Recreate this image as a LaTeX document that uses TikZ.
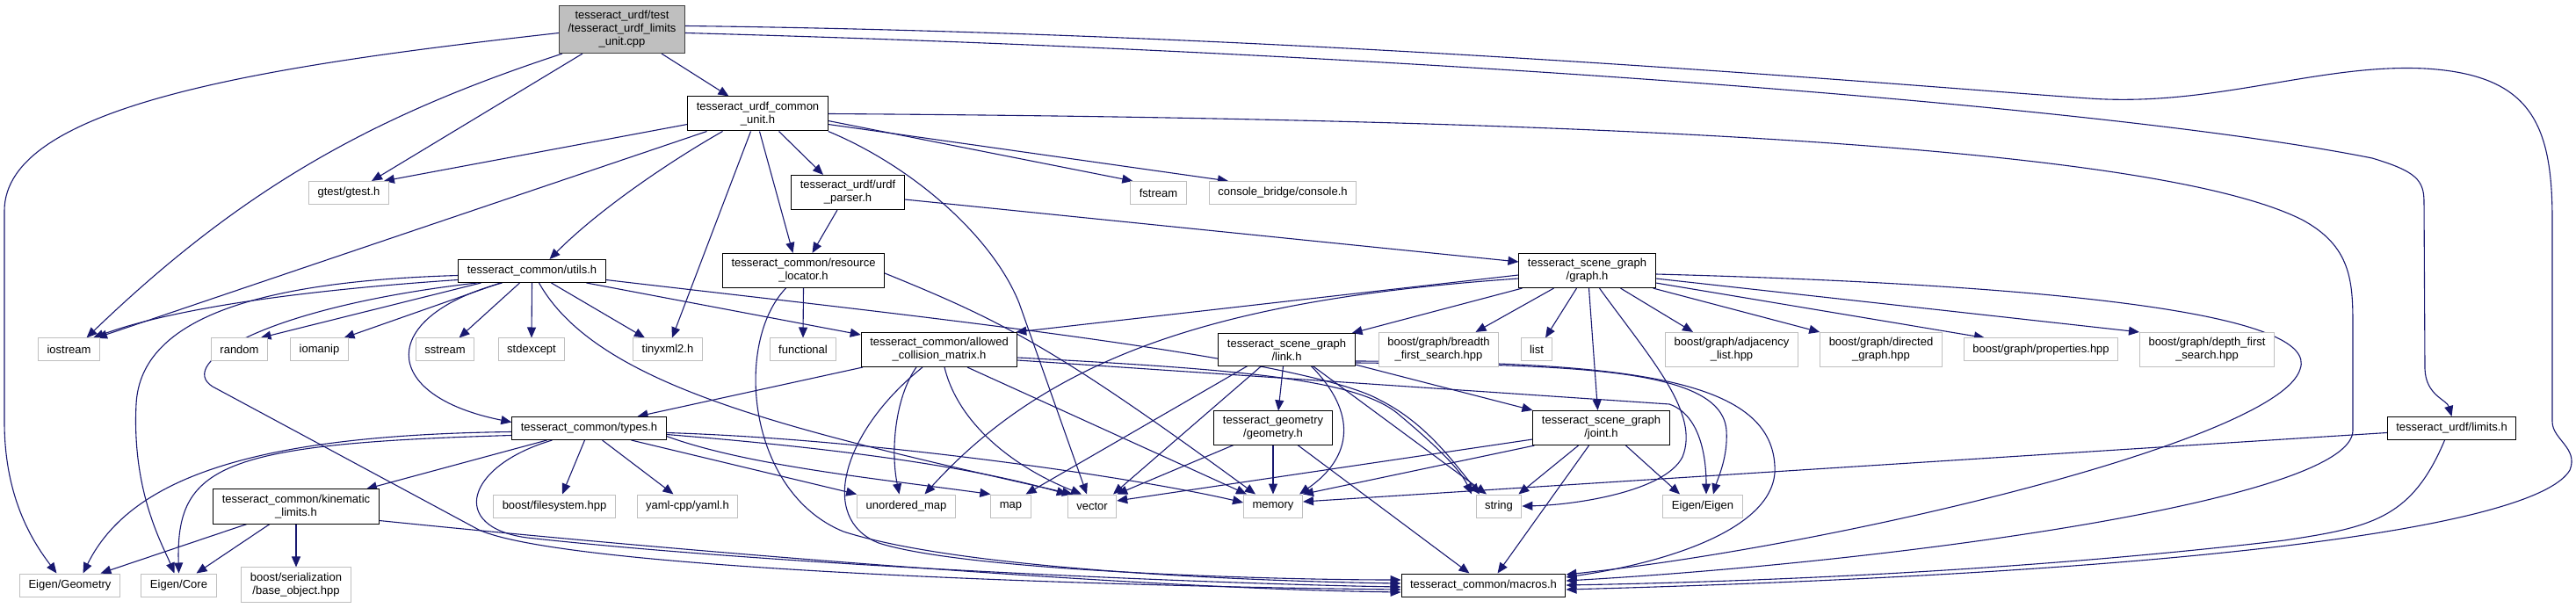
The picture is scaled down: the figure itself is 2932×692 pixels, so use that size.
\documentclass[tikz,border=0pt]{standalone}
\usepackage{fontspec}
\setmainfont{Liberation Sans}
\usepackage{tikz}
\usetikzlibrary{arrows.meta,backgrounds}
\definecolor{deps-blue}{HTML}{191970}
\definecolor{deps-grey}{HTML}{BFBFBF}
\definecolor{deps-dark}{HTML}{404040}

\begin{document}
\begin{tikzpicture}[x=1pt,y=-1pt,
  filebox/.style={rectangle,fill=white,align=center,font=\fontsize{13}{15}\selectfont,inner xsep=10pt,inner ysep=6pt,minimum height=26pt,line width=1pt},
  hdr/.style={filebox,draw=black},
  sys/.style={filebox,draw=deps-grey},
  cur/.style={filebox,draw=deps-dark,fill=deps-grey},
  inc/.style={draw=deps-blue,line width=1.1pt,-{Triangle[length=12pt,width=10pt]}}]
  \useasboundingbox (0,0) rectangle (2932,692);

  \node[cur] (root) at (708,33.5) {tesseract\_urdf/test\\/tesseract\_urdf\_limits\\\_unit.cpp};
  \node[hdr] (cu) at (862.5,129.5) {tesseract\_urdf\_common\\\_unit.h};
  \node[sys] (gtest) at (397,219.5) {gtest/gtest.h};
  \node[hdr] (parser) at (965,219) {tesseract\_urdf/urdf\\\_parser.h};
  \node[sys] (fstream) at (1318.5,219.5) {fstream};
  \node[sys] (console) at (1460,219.5) {console\_bridge/console.h};
  \node[hdr] (utils) at (605.5,308.5) {tesseract\_common/utils.h};
  \node[hdr] (resloc) at (914.5,308) {tesseract\_common/resource\\\_locator.h};
  \node[hdr] (graph) at (1806.5,308) {tesseract\_scene\_graph\\/graph.h};
  \node[sys] (iostream) at (78.5,398) {iostream};
  \node[sys] (random) at (272.5,398) {random};
  \node[sys] (iomanip) at (363.5,398) {iomanip};
  \node[sys] (sstream) at (506.5,398) {sstream};
  \node[sys] (stdexcept) at (605,398) {stdexcept};
  \node[sys] (tinyxml) at (760,398) {tinyxml2.h};
  \node[sys] (functional) at (914,398) {functional};
  \node[hdr] (acm) at (1069,398) {tesseract\_common/allowed\\\_collision\_matrix.h};
  \node[hdr] (link) at (1464.5,398) {tesseract\_scene\_graph\\/link.h};
  \node[sys] (bfs) at (1637.5,398) {boost/graph/breadth\\\_first\_search.hpp};
  \node[sys] (list) at (1749,398) {list};
  \node[sys] (adjlist) at (1971,398) {boost/graph/adjacency\\\_list.hpp};
  \node[sys] (directed) at (2141,398) {boost/graph/directed\\\_graph.hpp};
  \node[sys] (props) at (2323,398) {boost/graph/properties.hpp};
  \node[sys] (dfs) at (2512,398) {boost/graph/depth\_first\\\_search.hpp};
  \node[hdr] (types) at (670.5,487.5) {tesseract\_common/types.h};
  \node[hdr] (geometry) at (1449,487) {tesseract\_geometry\\/geometry.h};
  \node[hdr] (joint) at (1822.5,487) {tesseract\_scene\_graph\\/joint.h};
  \node[hdr] (limits) at (2790.5,487.5) {tesseract\_urdf/limits.h};
  \node[hdr] (kinlimits) at (337,576.5) {tesseract\_common/kinematic\\\_limits.h};
  \node[sys] (filesystem) at (631,576) {boost/filesystem.hpp};
  \node[sys] (yaml) at (782.5,576) {yaml-cpp/yaml.h};
  \node[sys] (umap) at (1031.5,576) {unordered\_map};
  \node[sys] (map) at (1150.5,576) {map};
  \node[sys] (vector) at (1243,576) {vector};
  \node[sys] (memory) at (1449,576) {memory};
  \node[sys] (string) at (1706,576) {string};
  \node[sys] (eigen) at (1938,576) {Eigen/Eigen};
  \node[sys] (egeom) at (79.5,666) {Eigen/Geometry};
  \node[sys] (ecore) at (203.5,666) {Eigen/Core};
  \node[sys] (serial) at (337,665.5) {boost/serialization\\/base\_object.hpp};
  \node[hdr] (macros) at (1688.5,666) {tesseract\_common/macros.h};

  \begin{scope}[on background layer]
  \draw[inc] ([yshift=-4]root.west) .. controls (300,75) and (5,120) .. (5,240) -- (5,480) .. controls (5,570) and (40,620) .. ([xshift=-15]egeom.north);
  \draw[inc] ([xshift=-68]root.south) .. controls (430,130) and (280,210) .. ([xshift=20]iostream.north);
  \draw[inc] ([xshift=-45]root.south) -- ([xshift=26]gtest.north);
  \draw[inc] ([xshift=45]root.south) -- ([xshift=-33]cu.north);
  \draw[inc] ([yshift=-4]root.east) .. controls (1600,60) and (2400,120) .. (2700,180) .. controls (2750,195) and (2759,205) .. (2759,230) -- (2760,420) .. controls (2761,450) and (2785,455) .. (limits.north);
  \draw[inc] ([yshift=4]root.east) .. controls (1500,38) and (2200,100) .. (2378,112) .. controls (2520,122) and (2640,72) .. (2760,78) .. controls (2880,85) and (2905,140) .. (2905,250) -- (2905,480) .. controls (2905,500) and (2935,510) .. (2925,535) .. controls (2890,595) and (2550,650) .. ([yshift=-5]macros.east);

  \draw[inc] ([yshift=-12]cu.west) -- ([xshift=-6]gtest.north east);
  \draw[inc] ([xshift=-58]cu.south) -- ([xshift=-4]iostream.north east);
  \draw[inc] ([xshift=-40]cu.south) .. controls (760,185) and (680,240) .. ([xshift=20]utils.north);
  \draw[inc] ([xshift=-8]cu.south) -- ([xshift=5]tinyxml.north);
  \draw[inc] ([xshift=2]cu.south) -- ([xshift=-12]resloc.north);
  \draw[inc] ([xshift=24]cu.south) -- ([xshift=-28]parser.north);
  \draw[inc] ([yshift=-8]cu.east) -- ([xshift=3]fstream.north west);
  \draw[inc] ([yshift=-12]cu.east) -- ([xshift=-62]console.north);
  \draw[inc] (cu.south east) .. controls (1040,190) and (1130,270) .. (1160,345) -- ([xshift=-6]vector.north);
  \draw[inc] (cu.east) .. controls (1800,135) and (2450,165) .. (2620,250) .. controls (2676,280) and (2678,320) .. (2678,370) -- (2678,490) .. controls (2678,570) and (2150,640) .. ([yshift=5]macros.east);

  \draw[inc] ([xshift=-12]parser.south) -- ([xshift=10]resloc.north);
  \draw[inc] ([yshift=-8]parser.east) -- ([yshift=10]graph.west);

  \draw[inc] ([yshift=-10]utils.west) .. controls (350,330) and (200,350) .. ([xshift=-8]iostream.north east);
  \draw[inc] ([yshift=-5]utils.west) .. controls (300,320) and (160,360) .. (155,460) .. controls (150,560) and (185,620) .. ([xshift=-5]ecore.north);
  \draw[inc] ([xshift=-63]utils.south) .. controls (300,350) and (200,414) .. (242,440) -- (545,603) .. controls (650,650) and (1300,668) .. ([yshift=-5]macros.west);
  \draw[inc] ([xshift=-58]utils.south) -- ([xshift=24]random.north);
  \draw[inc] ([xshift=-36]utils.south) -- ([xshift=28]iomanip.north);
  \draw[inc] ([xshift=-34]utils.south) .. controls (430,360) and (430,450) .. ([yshift=7]types.west);
  \draw[inc] ([xshift=-14]utils.south) -- ([xshift=16]sstream.north);
  \draw[inc] (utils.south) -- (stdexcept.north);
  \draw[inc] ([xshift=8]utils.south) .. controls (680,440) and (900,490) .. ([xshift=-22]vector.north);
  \draw[inc] ([xshift=22]utils.south) -- ([xshift=-26]tinyxml.north);
  \draw[inc] ([xshift=62]utils.south) -- ([yshift=-3]acm.north west);
  \draw[inc] ([yshift=-10]utils.east) .. controls (1000,355) and (1480,405) .. (1570,455) .. controls (1620,480) and (1650,520) .. ([xshift=-22]string.north);

  \draw[inc] (resloc.south) -- (functional.north);
  \draw[inc] ([xshift=-20]resloc.south) .. controls (835,390) and (850,560) .. (960,605) .. controls (1100,650) and (1450,662) .. ([yshift=2]macros.west);
  \draw[inc] ([yshift=-3]resloc.east) .. controls (1140,365) and (1200,395) .. ([xshift=-20]memory.north);

  \draw[inc] ([yshift=-5]graph.west) -- ([xshift=-2]acm.north east);
  \draw[inc] ([yshift=-9]graph.west) .. controls (1400,340) and (1200,400) .. ([xshift=21]umap.north);
  \draw[inc] ([xshift=-74]graph.south) -- ([xshift=-4]link.north east);
  \draw[inc] ([xshift=-38]graph.south) -- ([xshift=42]bfs.north);
  \draw[inc] ([xshift=-12]graph.south) -- ([xshift=10]list.north);
  \draw[inc] ([xshift=2]graph.south) -- ([xshift=-4]joint.north);
  \draw[inc] ([xshift=14]graph.south) .. controls (1880,410) and (1935,470) .. (1915,520) .. controls (1895,560) and (1790,575) .. (string.east);
  \draw[inc] ([xshift=38]graph.south) -- ([xshift=-44]adjlist.north);
  \draw[inc] ([xshift=-3]graph.south east) -- (directed.north west);
  \draw[inc] ([yshift=-14]graph.east) -- ([xshift=-64]props.north);
  \draw[inc] ([yshift=-9]graph.east) -- (dfs.north west);
  \draw[inc] ([yshift=-4]graph.east) .. controls (2370,325) and (2640,360) .. (2618,420) .. controls (2595,500) and (2100,620) .. ([yshift=12]macros.east);

  \draw[inc] ([xshift=-87]acm.south) -- ([xshift=55]types.north);
  \draw[inc] ([xshift=-26]acm.south) .. controls (1020,450) and (1013,510) .. ([xshift=-8]umap.north);
  \draw[inc] ([xshift=-19]acm.south) .. controls (960,490) and (930,590) .. (1000,618) .. controls (1100,650) and (1450,660) .. ([yshift=6]macros.west);
  \draw[inc] ([xshift=6]acm.south) .. controls (1090,480) and (1150,530) .. ([xshift=-12]vector.north);
  \draw[inc] ([xshift=32]acm.south) -- ([xshift=-30]memory.north);
  \draw[inc] ([yshift=-9]acm.east) .. controls (1400,420) and (1540,430) .. (1590,470) .. controls (1620,495) and (1660,530) .. ([xshift=-31]string.north);
  \draw[inc] ([yshift=-12]acm.east) -- (1900,460) .. controls (1935,472) and (1942,520) .. ([xshift=4]eigen.north);

  \draw[inc] ([yshift=-4]types.west) .. controls (300,495) and (150,540) .. ([xshift=15]egeom.north);
  \draw[inc] ([yshift=-8]types.west) .. controls (250,505) and (200,530) .. (ecore.north);
  \draw[inc] ([xshift=-48]types.south) -- ([xshift=80]kinlimits.north);
  \draw[inc] ([xshift=-42]types.south) .. controls (530,530) and (510,600) .. (600,612) .. controls (900,645) and (1400,665) .. ([yshift=-2]macros.west);
  \draw[inc] ([xshift=-5]types.south) -- ([xshift=9]filesystem.north);
  \draw[inc] ([xshift=15]types.south) -- ([xshift=-16]yaml.north);
  \draw[inc] ([xshift=48]types.south) -- (umap.north west);
  \draw[inc] ([yshift=-9]types.east) .. controls (850,530) and (1000,545) .. (map.north west);
  \draw[inc] ([yshift=-7]types.east) .. controls (950,510) and (1100,530) .. (vector.north west);
  \draw[inc] ([yshift=-5]types.east) .. controls (1000,500) and (1300,545) .. ([yshift=4]memory.west);

  \draw[inc] ([xshift=-56]kinlimits.south) -- ([xshift=35]egeom.north);
  \draw[inc] ([xshift=-30]kinlimits.south) -- ([xshift=20]ecore.north);
  \draw[inc] (kinlimits.south) -- (serial.north);
  \draw[inc] ([yshift=-16]kinlimits.east) .. controls (800,630) and (1300,670) .. ([yshift=-8]macros.west);

  \draw[inc] ([xshift=-45]link.south) -- ([xshift=17]map.north);
  \draw[inc] ([xshift=-29]link.south) -- ([xshift=24]vector.north);
  \draw[inc] ([xshift=-4]link.south) -- ([xshift=6]geometry.north);
  \draw[inc] ([xshift=28]link.south) .. controls (1545,470) and (1540,520) .. ([xshift=30]memory.north);
  \draw[inc] ([xshift=30]link.south) -- ([xshift=-14]string.north);
  \draw[inc] ([yshift=-17]link.east) -- (joint.north west);
  \draw[inc] ([yshift=-15]link.east) .. controls (1800,415) and (1960,420) .. (1965,490) .. controls (1967,520) and (1955,545) .. ([xshift=12]eigen.north);
  \draw[inc] ([yshift=-13]link.east) .. controls (1850,412) and (2015,430) .. (2020,530) .. controls (2025,600) and (1900,640) .. ([yshift=9]macros.east);

  \draw[inc] ([xshift=-45]geometry.south) -- (vector.north east);
  \draw[inc] (geometry.south) -- (memory.north);
  \draw[inc] ([xshift=28]geometry.south) -- ([xshift=-16]macros.north);

  \draw[inc] ([yshift=-13]joint.west) -- ([yshift=6]vector.east);
  \draw[inc] ([xshift=2]joint.south west) -- (memory.north east);
  \draw[inc] ([xshift=-26]joint.south) -- ([xshift=-4]string.north east);
  \draw[inc] ([xshift=28]joint.south) -- ([xshift=-26]eigen.north);
  \draw[inc] ([xshift=-14]joint.south) -- ([xshift=16]macros.north);

  \draw[inc] ([yshift=-5]limits.west) -- ([yshift=5]memory.east);
  \draw[inc] ([xshift=-8]limits.south) .. controls (2745,590) and (2700,600) .. (2600,615) .. controls (2300,650) and (2000,662) .. (macros.east);
  \end{scope}
\end{tikzpicture}
\end{document}
